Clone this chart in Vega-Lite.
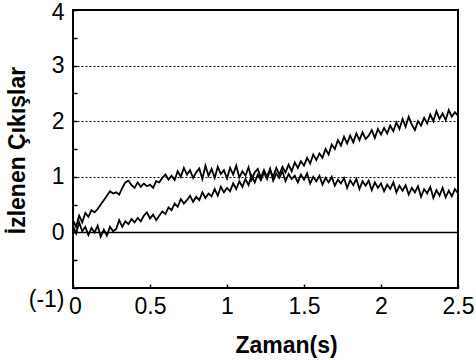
{
  "$schema": "https://vega.github.io/schema/vega-lite/v6.json",
  "width": 385,
  "height": 278,
  "autosize": {"type": "none"},
  "padding": {"left": 73, "top": 10, "right": 18, "bottom": 72},
  "background": "white",
  "config": {
    "view": {"stroke": "black", "strokeWidth": 2},
    "font": "Liberation Sans",
    "axis": {"labelFont": "Liberation Sans", "titleFont": "Liberation Sans", "labelColor": "black", "titleColor": "black", "labelFontSize": 23, "titleFontSize": 23, "titleFontWeight": "bold", "domain": false, "tickColor": "black", "labelFlush": false, "labelOverlap": false}
  },
  "data": {"values": [
    {"t":0.00,"a":0.22,"b":0.12},{"t":0.02,"a":0.10,"b":-0.02},{"t":0.04,"a":0.30,"b":0.18},{"t":0.06,"a":0.18,"b":0.02},{"t":0.08,"a":0.35,"b":0.10},
    {"t":0.10,"a":0.28,"b":-0.05},{"t":0.12,"a":0.40,"b":0.08},{"t":0.14,"a":0.36,"b":0.00},{"t":0.16,"a":0.42,"b":0.12},{"t":0.18,"a":0.50,"b":-0.08},
    {"t":0.20,"a":0.58,"b":0.05},{"t":0.22,"a":0.66,"b":-0.06},{"t":0.24,"a":0.74,"b":0.10},{"t":0.26,"a":0.70,"b":0.02},{"t":0.28,"a":0.72,"b":0.06},
    {"t":0.30,"a":0.68,"b":0.22},{"t":0.32,"a":0.80,"b":0.10},{"t":0.34,"a":0.90,"b":0.20},{"t":0.36,"a":0.93,"b":0.15},{"t":0.38,"a":0.85,"b":0.24},
    {"t":0.40,"a":0.80,"b":0.18},{"t":0.42,"a":0.90,"b":0.26},{"t":0.44,"a":0.82,"b":0.20},{"t":0.46,"a":0.88,"b":0.30},{"t":0.48,"a":0.83,"b":0.36},
    {"t":0.50,"a":0.86,"b":0.25},{"t":0.52,"a":0.80,"b":0.32},{"t":0.54,"a":0.92,"b":0.22},{"t":0.56,"a":0.90,"b":0.30},{"t":0.58,"a":0.98,"b":0.38},
    {"t":0.60,"a":1.04,"b":0.33},{"t":0.62,"a":0.95,"b":0.45},{"t":0.64,"a":1.02,"b":0.40},{"t":0.66,"a":0.94,"b":0.52},{"t":0.68,"a":1.10,"b":0.46},
    {"t":0.70,"a":1.00,"b":0.60},{"t":0.72,"a":1.16,"b":0.52},{"t":0.74,"a":1.04,"b":0.58},{"t":0.76,"a":1.12,"b":0.66},{"t":0.78,"a":0.98,"b":0.55},
    {"t":0.80,"a":1.08,"b":0.64},{"t":0.82,"a":1.15,"b":0.58},{"t":0.84,"a":0.96,"b":0.72},{"t":0.86,"a":1.20,"b":0.62},{"t":0.88,"a":1.02,"b":0.70},
    {"t":0.90,"a":1.14,"b":0.65},{"t":0.92,"a":0.98,"b":0.78},{"t":0.94,"a":1.18,"b":0.66},{"t":0.96,"a":1.05,"b":0.82},{"t":0.98,"a":1.12,"b":0.72},
    {"t":1.00,"a":0.97,"b":0.80},{"t":1.02,"a":1.16,"b":0.74},{"t":1.04,"a":1.04,"b":0.88},{"t":1.06,"a":1.20,"b":0.78},{"t":1.08,"a":0.99,"b":0.92},
    {"t":1.10,"a":1.10,"b":0.82},{"t":1.12,"a":1.02,"b":0.96},{"t":1.14,"a":1.17,"b":0.85},{"t":1.16,"a":0.95,"b":1.02},{"t":1.18,"a":1.08,"b":0.90},
    {"t":1.20,"a":1.14,"b":1.04},{"t":1.22,"a":0.98,"b":0.94},{"t":1.24,"a":1.12,"b":1.08},{"t":1.26,"a":1.00,"b":0.96},{"t":1.28,"a":1.15,"b":1.12},
    {"t":1.30,"a":0.93,"b":1.00},{"t":1.32,"a":1.06,"b":1.16},{"t":1.34,"a":0.98,"b":1.04},{"t":1.36,"a":1.10,"b":1.18},{"t":1.38,"a":0.92,"b":1.08},
    {"t":1.40,"a":1.05,"b":1.22},{"t":1.42,"a":0.96,"b":1.10},{"t":1.44,"a":1.02,"b":1.26},{"t":1.46,"a":0.90,"b":1.16},{"t":1.48,"a":1.04,"b":1.28},
    {"t":1.50,"a":0.95,"b":1.20},{"t":1.52,"a":1.06,"b":1.34},{"t":1.54,"a":0.88,"b":1.24},{"t":1.56,"a":1.00,"b":1.40},{"t":1.58,"a":0.92,"b":1.30},
    {"t":1.60,"a":1.02,"b":1.42},{"t":1.62,"a":0.86,"b":1.34},{"t":1.64,"a":0.98,"b":1.50},{"t":1.66,"a":0.90,"b":1.40},{"t":1.68,"a":1.00,"b":1.58},
    {"t":1.70,"a":0.84,"b":1.50},{"t":1.72,"a":0.95,"b":1.66},{"t":1.74,"a":0.88,"b":1.56},{"t":1.76,"a":0.98,"b":1.72},{"t":1.78,"a":0.80,"b":1.60},
    {"t":1.80,"a":0.94,"b":1.74},{"t":1.82,"a":0.85,"b":1.62},{"t":1.84,"a":0.96,"b":1.78},{"t":1.86,"a":0.78,"b":1.66},{"t":1.88,"a":0.92,"b":1.80},
    {"t":1.90,"a":0.84,"b":1.68},{"t":1.92,"a":0.93,"b":1.74},{"t":1.94,"a":0.76,"b":1.84},{"t":1.96,"a":0.90,"b":1.70},{"t":1.98,"a":0.80,"b":1.86},
    {"t":2.00,"a":0.88,"b":1.76},{"t":2.02,"a":0.74,"b":1.88},{"t":2.04,"a":0.86,"b":1.78},{"t":2.06,"a":0.78,"b":1.92},{"t":2.08,"a":0.90,"b":1.82},
    {"t":2.10,"a":0.72,"b":1.98},{"t":2.12,"a":0.84,"b":1.86},{"t":2.14,"a":0.75,"b":2.04},{"t":2.16,"a":0.85,"b":1.90},{"t":2.18,"a":0.68,"b":2.08},
    {"t":2.20,"a":0.80,"b":1.94},{"t":2.22,"a":0.72,"b":1.84},{"t":2.24,"a":0.83,"b":2.00},{"t":2.26,"a":0.64,"b":1.92},{"t":2.28,"a":0.78,"b":2.06},
    {"t":2.30,"a":0.70,"b":1.96},{"t":2.32,"a":0.82,"b":2.12},{"t":2.34,"a":0.62,"b":2.00},{"t":2.36,"a":0.76,"b":2.18},{"t":2.38,"a":0.66,"b":2.04},
    {"t":2.40,"a":0.80,"b":2.14},{"t":2.42,"a":0.63,"b":2.02},{"t":2.44,"a":0.75,"b":2.20},{"t":2.46,"a":0.65,"b":2.08},{"t":2.48,"a":0.78,"b":2.16},
    {"t":2.50,"a":0.70,"b":2.10}
  ]},
  "transform": [{"fold": ["a", "b"], "as": ["s", "v"]}],
  "mark": {"type": "line", "color": "black", "strokeWidth": 1.8},
  "encoding": {
    "x": {
      "field": "t", "type": "quantitative",
      "scale": {"domain": [0, 2.5], "nice": false, "zero": false},
      "axis": {
        "title": "Zaman(s)",
        "values": [0, 0.5, 1, 1.5, 2, 2.5],
        "format": "~g",
        "grid": false,
        "tickSize": -4,
        "tickWidth": 1.5,
        "labelPadding": 11,
        "labelOffset": {"condition": {"test": "datum.value === 0", "value": 2}, "value": 0},
        "titleX": 213,
        "titleY": 64,
        "titleBaseline": "alphabetic"
      }
    },
    "y": {
      "field": "v", "type": "quantitative",
      "scale": {"domain": [-1, 4], "nice": false, "zero": false},
      "axis": {
        "title": "İzlenen Çıkışlar",
        "values": [-1, -0.5, 0, 0.5, 1, 1.5, 2, 2.5, 3, 3.5, 4],
        "format": "~g",
        "labelExpr": "datum.value === -1 ? '(-1)' : (datum.value % 1 === 0 ? datum.label : '')",
        "labelBaseline": {"condition": {"test": "datum.value === -1", "value": "top"}, "value": "middle"},
        "labelOffset": {"condition": {"test": "datum.value === 4", "value": 2}, "value": 0},
        "labelPadding": 13,
        "tickSize": -4,
        "tickWidth": 1.5,
        "grid": true,
        "gridColor": "black",
        "gridDash": {"condition": {"test": "datum.value === 0", "value": []}, "value": [2, 2]},
        "gridWidth": {"condition": {"test": "datum.value === 0", "value": 1.5}, "value": 1},
        "gridOpacity": {"condition": {"test": "datum.value === 0 || datum.value === 1 || datum.value === 2 || datum.value === 3", "value": 1}, "value": 0},
        "titleAngle": -90,
        "titleX": -49,
        "titleY": 140,
        "titleAlign": "center",
        "titleBaseline": "alphabetic"
      }
    },
    "detail": {"field": "s", "type": "nominal"}
  }
}
